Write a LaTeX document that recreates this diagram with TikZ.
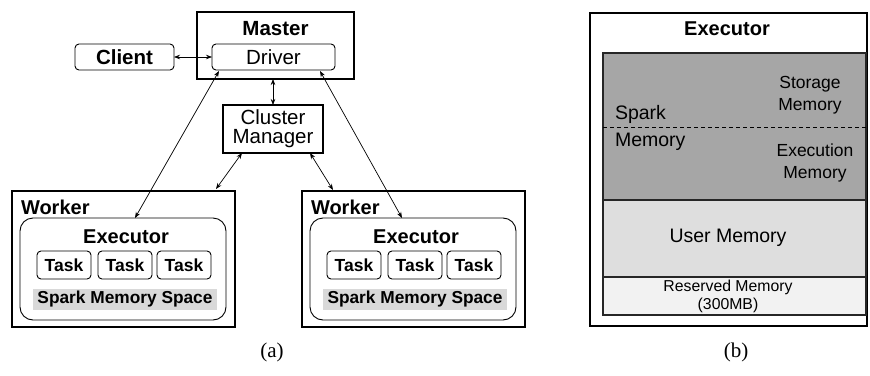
\documentclass[tikz,border=0pt]{standalone}
\usepackage{fontspec}
\setmainfont{Liberation Sans}
\newfontfamily\capfont{Liberation Serif}
\usetikzlibrary{arrows.meta,calc}

\begin{document}
\begin{tikzpicture}[x=1pt,y=-1pt,
  every node/.style={inner sep=0pt,outer sep=0pt},
  fs/.style={font=\fontsize{#1}{#1}\selectfont},
  fsb/.style={font=\fontsize{#1}{#1}\selectfont\bfseries},
  sqbox/.style={draw,line width=1.4pt},
  rbox/.style={draw,line width=0.9pt,rounded corners=4pt},
  execbox/.style={draw,line width=0.9pt,rounded corners=13pt},
  taskbox/.style={draw,line width=0.9pt,rounded corners=4pt,minimum width=54pt,minimum height=28pt,fsb=17.5},
  band/.style={fill=black!15,minimum width=184pt,minimum height=21pt,fsb=17.3},
  link/.style={line width=0.7pt,{Stealth[length=6pt,width=4.5pt]}-{Stealth[length=6pt,width=4.5pt]}},
  mem/.style={draw,line width=1.4pt,draw=black!85},
  caption/.style={font=\capfont\fontsize{21}{21}\selectfont}
]
\useasboundingbox (0,0) rectangle (870,375);

% ---------------- (a) cluster layout ----------------
\node[sqbox,minimum width=157pt,minimum height=67pt] (master) at (275.5,45.5) {};
\node[fsb=20.5] (masterlbl) at (275.5,29) {Master};
\node[rbox,minimum width=123pt,minimum height=26pt,fs=20.5] (driver) at (273.5,57) {Driver};
\node[rbox,minimum width=99pt,minimum height=26pt,fsb=20.5] (client) at (124.5,57) {Client};
\node[sqbox,minimum width=100pt,minimum height=48pt,align=center,
      font=\fontsize{20.5}{19}\selectfont] (cm) at (273,129) {Cluster\\Manager};

% workers
\foreach \i/\dx in {1/0,2/290}{
  \node[sqbox,minimum width=223pt,minimum height=136pt] (worker\i) at (123.5+\dx,259) {};
  \node[fsb=20,anchor=west] (wlbl\i) at (21+\dx,207) {Worker};
  \node[execbox,minimum width=206pt,minimum height=102pt] (exec\i) at (123+\dx,269) {};
  \node[fsb=20] (elbl\i) at (126+\dx,237) {Executor};
  \node[taskbox] (ta\i) at (64+\dx,265) {Task};
  \node[taskbox] (tb\i) at (125+\dx,265) {Task};
  \node[taskbox] (tc\i) at (184+\dx,265) {Task};
  \node[band] (sms\i) at (125+\dx,299.5) {Spark Memory Space};
}

% connectors
\draw[link] (client.east) -- (driver.west);
\draw[link] (master.south -| cm.north) -- (cm.north);
\draw[link] ($(cm.south west)+(19,0)$) coordinate (c1) -- ($(worker1.north east)+(-19,-2)$) coordinate (w1);
\draw[link] ($(cm.south east)+(-13,0)$) coordinate (c2) -- ($(worker2.north west)+(31,-1)$) coordinate (w2);
\draw[link] ($(driver.south west)+(7,1)$) coordinate (d1) -- ($(exec1.north)+(12,0)$) coordinate (e1);
\draw[link] ($(driver.south east)+(-15,1)$) coordinate (d2) -- ($(exec2.north)+(-11,0)$) coordinate (e2);

\node[caption] (capa) at (272,352) {(a)};

% ---------------- (b) executor memory layout ----------------
\node[draw,line width=2.6pt,minimum width=277pt,minimum height=313pt] (outer) at (728.5,169.5) {};
\node[fsb=20] (exlbl) at (727,29) {Executor};
\node[mem,fill=black!35,minimum width=263pt,minimum height=147pt] (spark) at (734.5,126.5) {};
\node[mem,fill=black!13,minimum width=263pt,minimum height=77pt] (user) at (734.5,238.5) {};
\node[mem,fill=black!5,minimum width=263pt,minimum height=38pt] (resv) at (734.5,296) {};
\draw[dashed,line width=0.9pt,dash pattern=on 4pt off 3pt] (spark.west |- 0,127) coordinate (dl) -- (spark.east |- 0,127) coordinate (dr);

\node[fs=19.5,anchor=west] (sp1) at (615,114) {Spark};
\node[fs=19.5,anchor=west] (sp2) at (615,142) {Memory};
\node[align=center,font=\fontsize{17.5}{22}\selectfont] (stor) at (810,95) {Storage\\Memory};
\node[align=center,font=\fontsize{17.5}{22}\selectfont] (exm) at (815,163) {Execution\\Memory};
\node[fs=19.5] (um) at (728,238) {User Memory};
\node[align=center,font=\fontsize{15.8}{18}\selectfont] (rm) at (728,296) {Reserved Memory\\(300MB)};

\node[caption] (capb) at (736,352) {(b)};
\end{tikzpicture}
\end{document}
